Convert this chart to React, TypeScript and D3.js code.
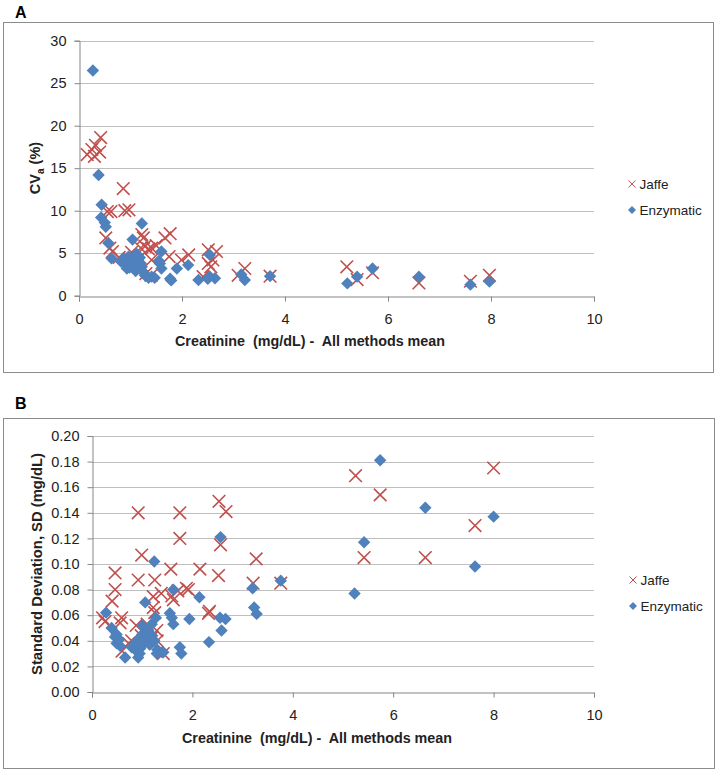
import React, { useRef, useEffect } from 'react';
import * as d3 from 'd3';

// Panel A: CVa (%) vs creatinine mean
const jaffeCV = [
  [0.16, 16.6], [0.25, 17.2], [0.32, 17.7], [0.42, 18.6], [0.4, 16.9], [0.3, 16.4],
  [0.86, 12.6], [0.89, 10.0], [0.97, 10.1], [0.55, 9.9], [0.62, 9.9],
  [0.52, 6.8], [0.6, 5.6], [0.65, 5.2], [0.78, 4.5], [1.02, 5.1],
  [1.25, 6.8], [1.22, 7.2], [1.28, 5.8], [1.35, 5.5], [1.41, 5.6], [1.5, 5.9], [1.2, 5.6], [1.15, 4.3],
  [1.67, 6.8], [1.77, 7.3], [1.75, 4.6], [1.99, 4.2], [2.13, 4.8], [1.41, 4.2], [1.3, 2.6], [1.4, 2.4],
  [2.41, 2.24], [2.51, 5.4], [2.67, 5.2], [2.51, 3.8], [2.56, 3.4], [2.6, 4.2],
  [3.09, 2.4], [3.22, 3.2], [3.71, 2.3], [5.2, 3.4], [5.4, 1.9], [5.7, 2.7], [6.6, 1.5], [7.6, 1.7], [7.97, 2.4],
];
const enzymaticCV = [
  [0.27, 26.5], [0.38, 14.2], [0.44, 10.7], [0.43, 9.2], [0.5, 8.6], [0.52, 8.1], [0.57, 6.2], [0.63, 4.4],
  [1.04, 6.6], [1.22, 8.5],
  [0.82, 4.0], [0.86, 4.4], [0.9, 3.8], [0.93, 3.2], [0.96, 4.6], [1.0, 4.0], [1.05, 4.6], [1.08, 3.5],
  [1.1, 2.9], [1.12, 4.9], [1.15, 4.2], [1.2, 3.8], [1.22, 3.4], [1.25, 2.8], [1.28, 2.4], [1.35, 2.1],
  [1.41, 2.24], [1.47, 2.1], [0.98, 3.3], [1.18, 4.5],
  [1.6, 5.2], [1.57, 3.8], [1.6, 3.2], [1.55, 4.1], [1.77, 2.0], [1.79, 1.8], [1.9, 3.2], [2.12, 3.6],
  [2.32, 1.85], [2.54, 4.8], [2.54, 2.24], [2.64, 2.05], [2.5, 2.0],
  [3.15, 2.5], [3.22, 1.85], [3.71, 2.3], [5.21, 1.45], [5.4, 2.24], [5.7, 3.2], [6.6, 2.24], [7.6, 1.3], [7.97, 1.65],
];

// Panel B: SD (mg/dL) vs creatinine mean
const jaffeSD = [
  [0.21, 0.058], [0.26, 0.055], [0.46, 0.093], [0.46, 0.080], [0.4, 0.071], [0.59, 0.058], [0.56, 0.054],
  [0.88, 0.052], [0.79, 0.040], [0.73, 0.038], [0.6, 0.032],
  [0.92, 0.140], [0.99, 0.107], [0.92, 0.0875], [1.25, 0.0875], [1.22, 0.0745], [1.38, 0.077], [1.22, 0.066],
  [1.25, 0.062], [1.57, 0.096], [1.75, 0.140], [1.75, 0.120], [1.59, 0.075], [1.62, 0.072], [1.71, 0.079],
  [1.88, 0.081], [1.92, 0.080], [2.15, 0.096], [2.34, 0.063], [2.32, 0.0615],
  [2.53, 0.149], [2.67, 0.141], [2.56, 0.115], [2.52, 0.091], [3.27, 0.104], [3.21, 0.085], [3.76, 0.085],
  [5.25, 0.169], [5.74, 0.154], [8.0, 0.175], [7.63, 0.130], [5.42, 0.105], [6.64, 0.105],
  [0.98, 0.044], [1.2, 0.043], [1.42, 0.030], [1.29, 0.048], [1.1, 0.053], [1.3, 0.040],
];
const enzymaticSD = [
  [0.28, 0.062], [0.39, 0.050], [0.46, 0.043], [0.49, 0.045], [0.49, 0.038], [0.56, 0.036], [0.54, 0.041], [0.66, 0.027],
  [1.06, 0.070], [1.24, 0.102], [1.62, 0.080], [1.55, 0.0615], [1.59, 0.058], [1.62, 0.053], [1.94, 0.057],
  [2.14, 0.074], [2.33, 0.039], [2.55, 0.058], [2.56, 0.121], [2.58, 0.048], [2.66, 0.057], [1.75, 0.035], [1.78, 0.030],
  [0.79, 0.035], [0.86, 0.033], [0.89, 0.040], [0.92, 0.027], [0.96, 0.034], [1.0, 0.045], [1.0, 0.052],
  [1.04, 0.038], [1.08, 0.042], [1.12, 0.048], [1.15, 0.037], [1.19, 0.053], [1.2, 0.044], [1.24, 0.040],
  [1.27, 0.058], [1.3, 0.033], [1.29, 0.030], [1.4, 0.031], [1.42, 0.031], [0.95, 0.030],
  [3.2, 0.081], [3.23, 0.066], [3.28, 0.061], [3.76, 0.087], [5.23, 0.077], [5.42, 0.117], [5.74, 0.181],
  [6.64, 0.144], [7.63, 0.098], [8.0, 0.137],
];

const xTicks = [0, 2, 4, 6, 8, 10];
const cvTicks = [0, 5, 10, 15, 20, 25, 30];
const sdTicks = [0, 0.02, 0.04, 0.06, 0.08, 0.1, 0.12, 0.14, 0.16, 0.18, 0.2];
const seriesNames = ['Jaffe', 'Enzymatic'];
const xTitle = 'Creatinine  (mg/dL) -  All methods mean';

const RED = '#C0504D';
const BLUE = '#4F81BD';
const FONT = '"Liberation Sans", Arial, sans-serif';

const panels = [
  {
    letter: 'A', box: [3, 22, 710, 350], plot: { l: 79, r: 594, t: 40.7, b: 295.7 },
    yDomain: [0, 30], yTicks: cvTicks, yFmt: d3.format('d'),
    jaffe: jaffeCV, enz: enzymaticCV, letterPos: [15, 18], yTitlePos: [35, 168],
    xTitlePos: [310, 341], legend: [632, 184],
  },
  {
    letter: 'B', box: [3, 418, 711, 350], plot: { l: 92, r: 594, t: 436, b: 692 },
    yDomain: [0, 0.2], yTicks: sdTicks, yFmt: d3.format('.2f'),
    jaffe: jaffeSD, enz: enzymaticSD, letterPos: [15, 409], yTitlePos: [37, 564],
    xTitlePos: [317, 738], legend: [633, 580],
  },
];

const crossPath = (s) => `M${-s},${-s}L${s},${s}M${-s},${s}L${s},${-s}`;
const diamondPath = (s) => `M0,${-s}L${s},0L0,${s}L${-s},0Z`;

const App = () => {
  const ref = useRef(null);

  useEffect(() => {
    document.body.style.margin = '0';
    const svg = d3.select(ref.current);
    svg.selectAll('*').remove();

    panels.forEach((p) => {
      const g = svg.append('g');
      const { l, r, t, b } = p.plot;
      const x = d3.scaleLinear().domain([0, 10]).range([l, r]);
      const y = d3.scaleLinear().domain(p.yDomain).range([b, t]);

      // outer frame
      g.append('rect')
        .attr('x', p.box[0] + 0.5).attr('y', p.box[1] + 0.5)
        .attr('width', p.box[2]).attr('height', p.box[3])
        .attr('fill', 'white').attr('stroke', '#8C8C8C').attr('stroke-width', 1);

      g.append('text')
        .attr('x', p.letterPos[0]).attr('y', p.letterPos[1])
        .attr('font-family', FONT).attr('font-weight', 'bold').attr('font-size', 16)
        .text(p.letter);

      // horizontal gridlines
      g.selectAll('.grid')
        .data(p.yTicks.slice(1))
        .join('line')
        .attr('x1', l).attr('x2', r)
        .attr('y1', (d) => Math.round(y(d)) + 0.5).attr('y2', (d) => Math.round(y(d)) + 0.5)
        .attr('stroke', '#BFBFBF').attr('stroke-width', 1.2);

      // y axis
      const yAxis = g.append('g')
        .attr('transform', `translate(${Math.round(l) + 0.5},0)`)
        .call(d3.axisLeft(y).tickValues(p.yTicks).tickFormat(p.yFmt).tickSize(5).tickPadding(8));
      // x axis
      const xAxis = g.append('g')
        .attr('transform', `translate(0,${Math.round(b) + 0.5})`)
        .call(d3.axisBottom(x).tickValues(xTicks).tickSize(5).tickPadding(12));

      [yAxis, xAxis].forEach((ax) => {
        ax.select('.domain').attr('stroke', '#868686');
        ax.selectAll('.tick line').attr('stroke', '#868686');
        ax.selectAll('.tick text')
          .attr('font-family', FONT).attr('font-size', 14.5).attr('fill', '#222');
      });

      // axis titles
      g.append('text')
        .attr('x', p.xTitlePos[0]).attr('y', p.xTitlePos[1]).attr('dy', '0.35em')
        .attr('text-anchor', 'middle')
        .attr('font-family', FONT).attr('font-weight', 'bold').attr('font-size', 14.5)
        .attr('textLength', 270).attr('lengthAdjust', 'spacingAndGlyphs')
        .attr('fill', '#222')
        .style('white-space', 'pre')
        .text(xTitle);

      const yt = g.append('text')
        .attr('transform', `translate(${p.yTitlePos[0]},${p.yTitlePos[1]}) rotate(-90)`)
        .attr('dy', '0.35em')
        .attr('text-anchor', 'middle')
        .attr('font-family', FONT).attr('font-weight', 'bold').attr('font-size', 14.5)
        .attr('fill', '#222');
      if (p.letter === 'A') {
        yt.append('tspan').text('CV');
        yt.append('tspan').attr('font-size', 10).attr('dy', 4).text('a');
        yt.append('tspan').attr('dy', -4).text(' (%)');
      } else {
        yt.attr('textLength', 222).attr('lengthAdjust', 'spacingAndGlyphs')
          .text('Standard Deviation, SD (mg/dL)');
      }

      // points: Jaffe first, enzymatic drawn over
      g.append('g').selectAll('path')
        .data(p.jaffe)
        .join('path')
        .attr('transform', (d) => `translate(${x(d[0])},${y(d[1])})`)
        .attr('d', crossPath(6.3))
        .attr('fill', 'none').attr('stroke', RED).attr('stroke-width', 1.6);

      g.append('g').selectAll('path')
        .data(p.enz)
        .join('path')
        .attr('transform', (d) => `translate(${x(d[0])},${y(d[1])})`)
        .attr('d', diamondPath(6.2))
        .attr('fill', BLUE);

      // legend
      const [lx, ly] = p.legend;
      seriesNames.forEach((name, i) => {
        const yy = ly + i * 26;
        g.append('path')
          .attr('transform', `translate(${lx},${yy})`)
          .attr('d', i === 0 ? crossPath(3.5) : diamondPath(4))
          .attr('fill', i === 0 ? 'none' : BLUE)
          .attr('stroke', i === 0 ? RED : 'none').attr('stroke-width', 1);
        g.append('text')
          .attr('x', lx + 7.5).attr('y', yy).attr('dy', '0.35em')
          .attr('font-family', FONT).attr('font-size', 13.5).attr('fill', '#222')
          .text(name);
      });
    });
  }, []);

  return <svg ref={ref} width={717} height={771} style={{ display: 'block' }} />;
};

export default App;
